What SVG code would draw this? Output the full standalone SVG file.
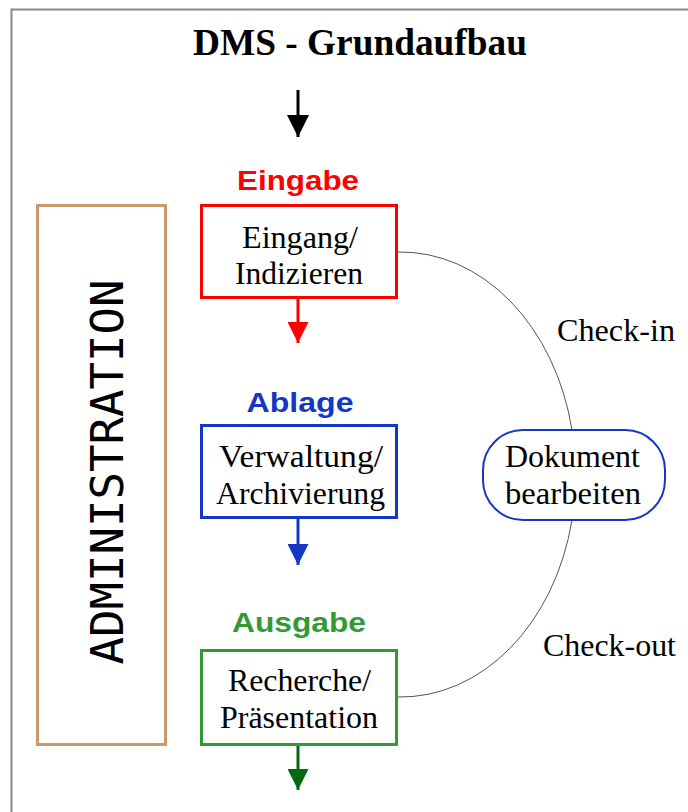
<svg xmlns="http://www.w3.org/2000/svg" width="688" height="812" viewBox="0 0 688 812">
  <style>
    .frame { fill: none; stroke: #8a8a8a; stroke-width: 2; }
    .box { fill: #ffffff; stroke-width: 3; }
    .serif { font-family: "Liberation Serif", "Times New Roman", serif; font-size: 31px; fill: #000; text-anchor: middle; }
    .head { font-family: "Liberation Sans", Arial, sans-serif; font-weight: bold; font-size: 28px; text-anchor: middle; }
    .arc { fill: none; stroke: #555555; stroke-width: 1; }
  </style>
  <defs>
    <marker id="arrBlack" viewBox="0 0 10 10" refX="10" refY="5" markerWidth="7.5" markerHeight="7.5" markerUnits="strokeWidth" orient="auto">
      <path d="M0,0 L10,5 L0,10 Z" fill="#000000"/>
    </marker>
    <marker id="arrRed" viewBox="0 0 10 10" refX="10" refY="5" markerWidth="7" markerHeight="7" markerUnits="strokeWidth" orient="auto">
      <path d="M0,0 L10,5 L0,10 Z" fill="#ff0000"/>
    </marker>
    <marker id="arrBlue" viewBox="0 0 10 10" refX="10" refY="5" markerWidth="7" markerHeight="7" markerUnits="strokeWidth" orient="auto">
      <path d="M0,0 L10,5 L0,10 Z" fill="#1538c4"/>
    </marker>
    <marker id="arrGreen" viewBox="0 0 10 10" refX="10" refY="5" markerWidth="7" markerHeight="7" markerUnits="strokeWidth" orient="auto">
      <path d="M0,0 L10,5 L0,10 Z" fill="#006a10"/>
    </marker>
  </defs>

  <rect width="688" height="812" fill="#ffffff"/>
  <!-- page frame (top and left edges) -->
  <path class="frame" d="M11.5,812 V9.5 H688"/>

  <!-- title -->
  <text x="360" y="55" font-family="'Liberation Serif', 'Times New Roman', serif" font-weight="bold" font-size="38" text-anchor="middle" textLength="334" lengthAdjust="spacingAndGlyphs">DMS - Grundaufbau</text>

  <!-- administration column -->
  <g id="administration">
    <rect x="37.5" y="205.5" width="128" height="539" fill="#ffffff" stroke="#c9996a" stroke-width="3"/>
    <text transform="translate(123,472) rotate(-90)" font-family="'DejaVu Sans Mono', monospace" font-size="45" text-anchor="middle" textLength="385" lengthAdjust="spacingAndGlyphs">ADMINISTRATION</text>
  </g>

  <!-- connectors -->
  <g id="connectors">
    <line x1="298" y1="90" x2="298" y2="137" stroke="#000000" stroke-width="3" marker-end="url(#arrBlack)"/>
    <line x1="298" y1="299" x2="298" y2="343" stroke="#ff0000" stroke-width="3" marker-end="url(#arrRed)"/>
    <line x1="298" y1="519" x2="298" y2="565" stroke="#1538c4" stroke-width="3" marker-end="url(#arrBlue)"/>
    <line x1="298" y1="746" x2="298" y2="790" stroke="#006a10" stroke-width="3" marker-end="url(#arrGreen)"/>
    <!-- check-in / check-out loop -->
    <path class="arc" d="M398,252 A175,222.5 0 0 1 572,430"/>
    <path class="arc" d="M572,520 A175,222.5 0 0 1 398,697"/>
    <text class="serif" x="616" y="341" textLength="118" lengthAdjust="spacingAndGlyphs">Check-in</text>
    <text class="serif" x="609.5" y="656" textLength="133" lengthAdjust="spacingAndGlyphs">Check-out</text>
  </g>

  <!-- Eingabe -->
  <g id="eingabe">
    <text class="head" x="298" y="190" fill="#ff0000" textLength="122" lengthAdjust="spacingAndGlyphs">Eingabe</text>
    <rect class="box" x="201.5" y="205.5" width="195" height="92" stroke="#ff0000"/>
    <text class="serif" x="300" y="248" textLength="116" lengthAdjust="spacingAndGlyphs">Eingang/</text>
    <text class="serif" x="299" y="284" textLength="128" lengthAdjust="spacingAndGlyphs">Indizieren</text>
  </g>

  <!-- Ablage -->
  <g id="ablage">
    <text class="head" x="300" y="412" fill="#1538c4" textLength="107" lengthAdjust="spacingAndGlyphs">Ablage</text>
    <rect class="box" x="201.5" y="425.5" width="195" height="92" stroke="#1538c4"/>
    <text class="serif" x="301" y="467" textLength="164" lengthAdjust="spacingAndGlyphs">Verwaltung/</text>
    <text class="serif" x="300.5" y="504" textLength="169" lengthAdjust="spacingAndGlyphs">Archivierung</text>
  </g>

  <!-- Ausgabe -->
  <g id="ausgabe">
    <text class="head" x="299" y="632" fill="#339933" textLength="134" lengthAdjust="spacingAndGlyphs">Ausgabe</text>
    <rect class="box" x="201.5" y="650.5" width="195" height="94" stroke="#339933"/>
    <text class="serif" x="299.5" y="691" textLength="143" lengthAdjust="spacingAndGlyphs">Recherche/</text>
    <text class="serif" x="299" y="728" textLength="158" lengthAdjust="spacingAndGlyphs">Präsentation</text>
  </g>

  <!-- Dokument bearbeiten -->
  <g id="dokument">
    <rect x="483" y="430" width="182" height="90" rx="40" ry="40" fill="#ffffff" stroke="#1538c4" stroke-width="2"/>
    <text class="serif" x="572.5" y="467" textLength="135" lengthAdjust="spacingAndGlyphs">Dokument</text>
    <text class="serif" x="573" y="504" textLength="136" lengthAdjust="spacingAndGlyphs">bearbeiten</text>
  </g>
</svg>
